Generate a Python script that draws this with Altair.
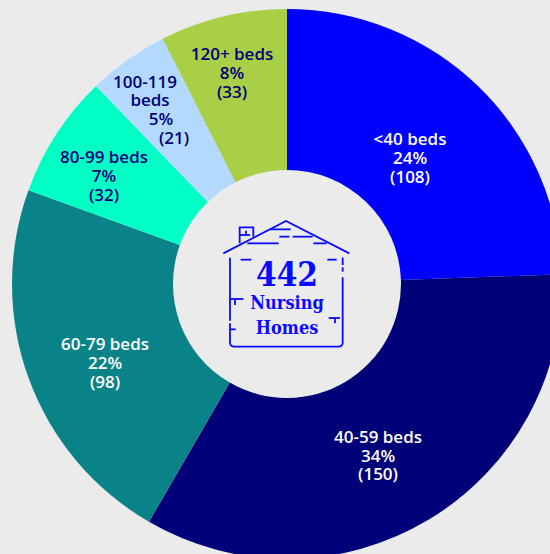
import altair as alt
import pandas as pd

categories = ["<40 beds", "40-59 beds", "60-79 beds", "80-99 beds", "100-119 beds", "120+ beds"]
counts = [108, 150, 98, 32, 21, 33]
colors = ["#0000ff", "#000078", "#0a8388", "#00ffc4", "#b3d9ff", "#a8cf45"]
BG = "#ebebeb"
OX, OY = 0, 0  # page margin removed by the style below
W, H = 550, 554

arc_df = pd.DataFrame({"cat": categories, "count": counts, "idx": range(len(counts))})

# label lines: text, page x, page y, colour
L = "#ffffff"
D = "#000078"
label_text = ["<40 beds", "24%", "(108)",
              "40-59 beds", "34%", "(150)",
              "60-79 beds", "22%", "(98)",
              "80-99 beds", "7%", "(32)",
              "100-119", "beds", "5%", "(21)",
              "120+ beds", "8%", "(33)"]
label_x = [410, 410, 410, 378, 378, 378, 105, 105, 105,
           104, 104, 104, 145, 150, 161, 174, 232, 232, 232]
label_y = [140, 159, 178, 438, 457, 475, 345, 364, 383,
           158, 177, 196, 83, 101, 120, 139, 55, 74, 93]
label_col = [L] * 9 + [D] * 10
lab_df = pd.DataFrame({"t": label_text, "x": [v - OX for v in label_x],
                       "y": [v - OY for v in label_y], "c": label_col})

center_text = ["442", "Nursing", "Homes"]
center_x = [287, 287, 287]
center_y = [276, 304, 329]
center_size = [33, 18, 18]
cen_df = pd.DataFrame({"t": center_text, "x": [v - OX for v in center_x],
                       "y": [v - OY for v in center_y], "s": center_size})

# house icon paths, in zoom-crop units of the reference (crop origin 170,190; 3x)
paths = [
    [(160, 190), (348, 93), (538, 190)],
    [(209, 160), (209, 112), (250, 112), (250, 140)],
    [(210, 135), (240, 135)], [(228, 122), (228, 135)],
    [(300, 118), (362, 118)], [(328, 140), (358, 140)], [(368, 140), (428, 140)],
    [(232, 160), (326, 160)], [(430, 160), (470, 160)],
    [(180, 203), (180, 392)],
    [(180, 400), (180, 460), (183, 467), (190, 470), (508, 470), (515, 467), (518, 460), (518, 262)],
    [(518, 245), (518, 232)], [(518, 225), (518, 203)],
    [(178, 327), (220, 327)], [(195, 327), (195, 345)], [(180, 418), (197, 418)],
    [(212, 209), (244, 209)], [(472, 209), (500, 209)],
    [(476, 384), (510, 384)], [(495, 384), (495, 400)],
]
rows = []
for i, p in enumerate(paths):
    for j, (a, b) in enumerate(p):
        rows.append({"p": i, "o": j, "x": 170 + a / 3 - OX, "y": 190 + b / 3 - OY})
house_df = pd.DataFrame(rows)

arcs = alt.Chart(arc_df).mark_arc(outerRadius=275, innerRadius=114).encode(
    theta=alt.Theta("count:Q", stack=True),
    order=alt.Order("idx:Q"),
    color=alt.Color("cat:N", scale=alt.Scale(domain=categories, range=colors), legend=None),
    x=alt.value(287 - OX),
    y=alt.value(284 - OY),
)

labels = alt.Chart(lab_df).mark_text(
    font="Open Sans", fontSize=17, fontWeight=600, align="center", baseline="middle"
).encode(
    x=alt.X("x:Q", scale=None), y=alt.Y("y:Q", scale=None),
    text="t:N", color=alt.Color("c:N", scale=None),
)

center = alt.Chart(cen_df).mark_text(
    font="DejaVu Serif Condensed", fontWeight="bold", color="#0a0aff", align="center", baseline="middle"
).encode(
    x=alt.X("x:Q", scale=None), y=alt.Y("y:Q", scale=None),
    text="t:N", size=alt.Size("s:Q", scale=None),
)

house = alt.Chart(house_df).mark_line(color="#0a0aff", strokeWidth=1.8).encode(
    x=alt.X("x:Q", scale=None), y=alt.Y("y:Q", scale=None),
    detail="p:N", order="o:Q",
)

chart = alt.layer(arcs, house, labels, center).properties(
    width=W, height=H, background=BG, padding=0,
    autosize=alt.AutoSizeParams(type="none"),
).configure_view(stroke=None)

chart.save("out.html", embed_options={
    "renderer": "svg", "actions": False,
    "defaultStyle": "html,body{margin:0;background:#ebebeb;overflow:hidden}.vega-embed{display:block;line-height:0}",
})
